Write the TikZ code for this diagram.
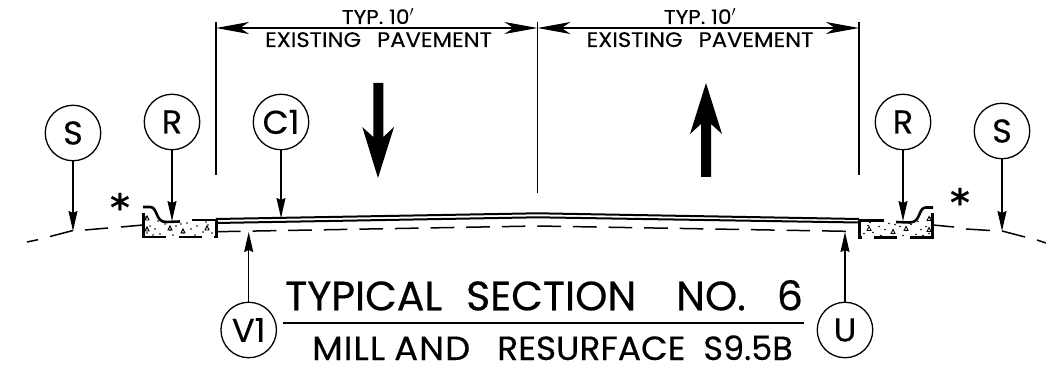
\documentclass[tikz,border=0pt]{standalone}
\usepackage{fontspec}
\setmainfont{Poppins}
\newfontfamily\labelFont[FakeStretch=1.02,FakeBold=0.3]{Poppins}
\newfontfamily\titleFont[FakeStretch=1.0,FakeBold=0.5]{Poppins}
\newfontfamily\subFont[FakeStretch=1.06,LetterSpace=3,FakeBold=0.4]{Poppins}
\newfontfamily\subMidFont[FakeStretch=1.03,FakeBold=0.4]{Poppins}
\newfontfamily\subTailFont[FakeStretch=1.0,FakeBold=0.4]{Poppins}
\newfontfamily\dimFont[FakeStretch=1.08,FakeBold=0.2]{Poppins}
\newfontfamily\starFont{DejaVu Sans}
\usetikzlibrary{arrows.meta,positioning,calc}
\tikzset{
tag/.style={circle,draw,line width=1.3pt,minimum size=55.5pt,inner sep=0pt,font=\fontsize{33}{33}\labelFont},
leader/.style={-{Stealth[length=20pt,width=9pt,inset=2pt]},line width=1.3pt},
dimline/.style={{Stealth[length=33pt,width=12pt,inset=9pt]}-{Stealth[length=33pt,width=12pt,inset=9pt]},line width=1.3pt},
bigarrow/.style={fill=black,draw=none},
subgrade/.style={line width=1.5pt},
roadtop/.style={line width=2pt},
curb/.pic={
  \foreach \dx/\dy in {146/217,150/226,147/233,155/229,160/234,165/224,170/230,176/226,183/233,187/223,191/229,197/226,203/232,208/225,212/233,153/235,173/235,206/222,158/221,195/235,181/224}
    \fill (\dx,\dy) circle (0.8pt);
  \foreach \dx/\dy in {147/218,147/229,170/228,183/231,207/228}
    \draw[line width=0.9pt] (\dx-2,\dy+2) -- (\dx,\dy-2) -- (\dx+2,\dy+2) -- cycle;
  \draw[line width=2.6pt] (143.5,213) -- (143.5,237) -- (166,237) (179,237) -- (202,237) (214,237) -- (216.5,237) -- (216.5,220) -- (192,220);
  \draw[line width=2.6pt] (143,207) -- (150,207) .. controls (158,207) and (155,222) .. (166,222) -- (180,221.5);
}}
\begin{document}
\begin{tikzpicture}[x=1pt,y=-1pt]
\useasboundingbox (0,0) rectangle (1046,371);
\node[tag] (sl) at (73,133) {S};
\node[tag] (rl) at (172,122) {R};
\node[tag] (cone) at (281,122) {C1};
\node[tag] (vone) at (248.7,330) {V1};
\node[tag] (u) at (845,330) {U};
\node[tag] (rr) at (903,122) {R};
\node[tag] (sr) at (1002,131) {S};
\coordinate (slend) at (73,231);
\coordinate (rlend) at (172,221);
\coordinate (coneend) at (281,218);
\coordinate (voneend) at (248.7,232);
\coordinate (uend) at (845,232);
\coordinate (rrend) at (903,221);
\coordinate (srend) at (1002,231);
\draw[leader] (sl) -- (slend);
\draw[leader] (rl) -- (rlend);
\draw[leader] (cone) -- (coneend);
\draw[leader] (vone) -- (voneend);
\draw[leader] (u) -- (uend);
\draw[leader] (rr) -- (rrend);
\draw[leader] (sr) -- (srend);
\coordinate (dima) at (216,28);
\coordinate (dimb) at (537.5,28);
\coordinate (dimc) at (859,28);
\draw[line width=1.3pt] (216,22) -- (216,175) (537.5,22) -- (537.5,193) (859,22) -- (859,175);
\draw[dimline] (dima) -- (dimb);
\draw[dimline] (dimb) -- (dimc);
\node[font=\fontsize{20}{20}\dimFont,anchor=base] (typl) at (378,24) {TYP. 10$'$};
\node[font=\fontsize{21}{21}\dimFont,anchor=base] (paveml) at (378.5,47) {EXISTING\hspace{16pt}PAVEMENT};
\node[font=\fontsize{20}{20}\dimFont,anchor=base] (typr) at (700,24) {TYP. 10$'$};
\node[font=\fontsize{21}{21}\dimFont,anchor=base] (pavemr) at (700,47) {EXISTING\hspace{16pt}PAVEMENT};
\fill[bigarrow] (373.3,83) -- (383.3,83) -- (383.3,137) -- (394,127) -- (378,178) -- (362.3,127) -- (373.3,137) -- cycle;
\fill[bigarrow] (701,177) -- (711,177) -- (711,124) -- (722,134) -- (706,83) -- (690,134) -- (701,124) -- cycle;
\draw[roadtop] (216,219) -- (537.5,213.3) -- (859,219);
\draw[roadtop] (216,223) -- (537.5,217.3) -- (859,222.5);
\pic at (0,0) {curb};
\pic at (1076,0.5) [xscale=-1] {curb};
\draw[subgrade] (27,242) -- (38,239.7) (50,236.5) -- (73,230.5) (85,230) -- (108,228) (121,227) -- (143,225);
\draw[subgrade] (933,225) -- (954,227) (966,229) -- (990,230.5) (1002,231) -- (1025,237) (1037,240) -- (1046,243);
\draw[subgrade,dash pattern=on 23.7pt off 11.9pt] (217,231.7) -- (537.5,226) -- (846,231.3);
\node[font=\fontsize{38}{38}\starFont\bfseries] (starl) at (120,207) {*};
\node[font=\fontsize{38}{38}\starFont\bfseries] (starr) at (960,202) {*};
\node[font=\fontsize{41}{41}\titleFont,anchor=base west,inner sep=0pt] (title) at (285,310.3) {TYPICAL\hspace{24pt}SECTION\hspace{40pt}NO.\hspace{31pt}6};
\draw[line width=1.5pt] (283,323) -- (804,323);
\node[font=\fontsize{33.5}{33.5}\subFont,anchor=base west,inner sep=0pt] (subtitle) at (312,360) {MILL\hspace{9pt}AND\hspace{27pt}{\subMidFont RESURFACE}\hspace{18pt}{\subTailFont S9.5B}};
\end{tikzpicture}
\end{document}
